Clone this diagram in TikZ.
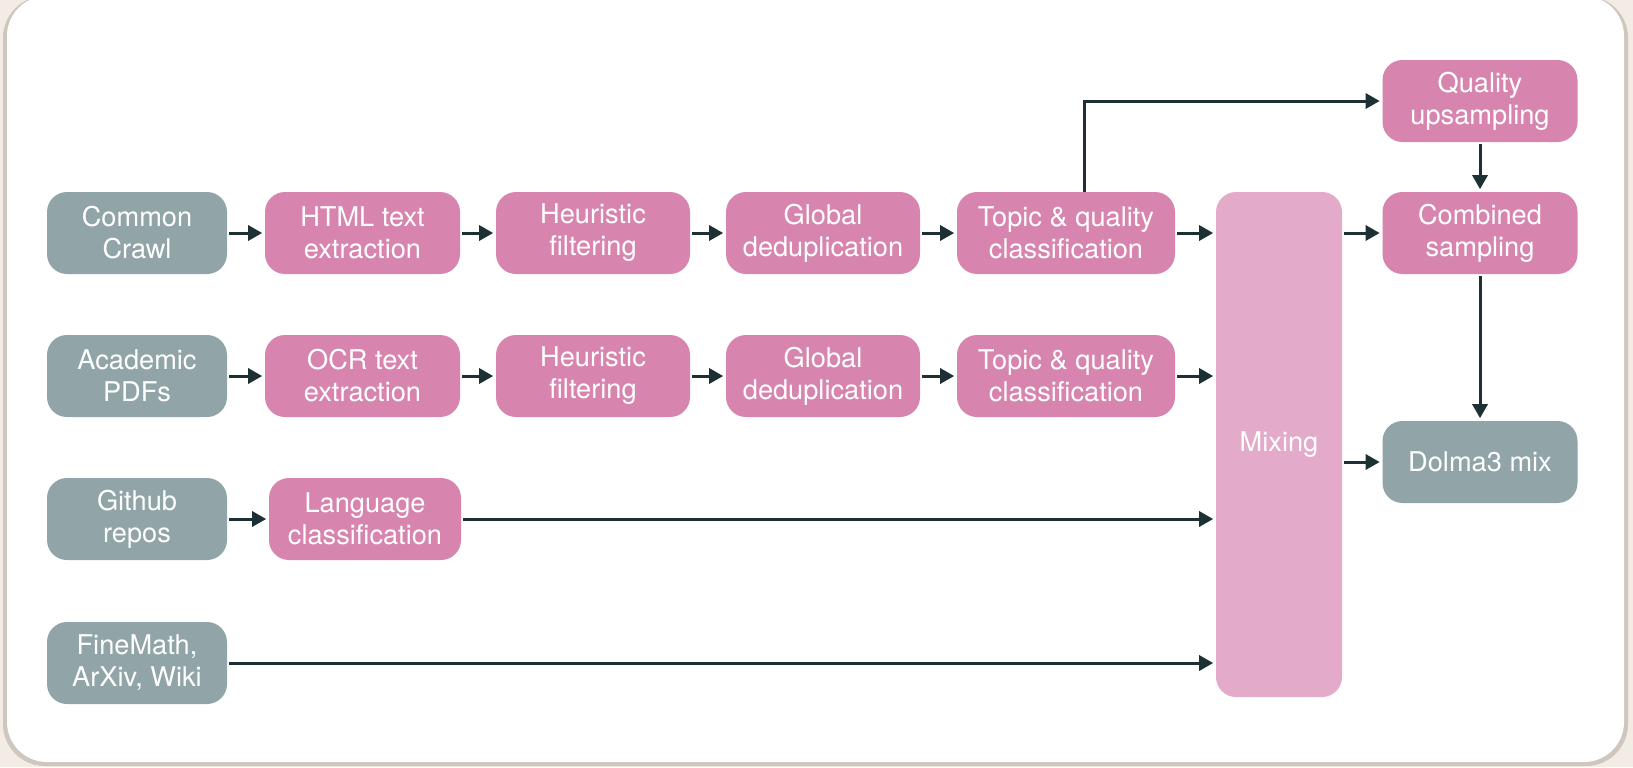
\documentclass[tikz,border=0pt]{standalone}
\usepackage{fontspec}
\setmainfont{TeX Gyre Heros}
\usetikzlibrary{arrows.meta}

\definecolor{pagebg}{HTML}{F3ECE4}
\definecolor{cardedge}{HTML}{CFC6BD}
\definecolor{srcgray}{HTML}{91A4A8}
\definecolor{steppink}{HTML}{D785AE}
\definecolor{mixpink}{HTML}{E3ABC9}
\definecolor{flowink}{HTML}{1D3134}

\tikzset{
  box/.style={rounded corners=10pt, text=white, align=center,
    minimum height=41pt, inner sep=0pt,
    font=\fontsize{13.6}{16}\selectfont},
  source/.style={box, fill=srcgray, minimum width=90pt},
  stage/.style={box, fill=steppink},
  mixer/.style={box, fill=mixpink, minimum width=63pt, minimum height=252.5pt},
  flow/.style={draw=flowink, line width=1.5pt,
    -{Triangle[length=7pt,width=7.5pt]}, shorten >=1.2pt, shorten <=1pt},
}

\begin{document}
\begin{tikzpicture}[x=0.5pt, y=-0.5pt]
  % page and card
  \useasboundingbox (0,0) rectangle (1633,767);
  \fill[pagebg] (0,0) rectangle (1633,767);
  \fill[cardedge, rounded corners=21pt] (3,-4) rectangle (1628,766);
  \fill[white, rounded corners=20pt] (7,-4) rectangle (1624,762);

  % sources
  \node[source] (cc)  at (137,233) {Common\\Crawl};
  \node[source] (pdf) at (137,376) {Academic\\PDFs};
  \node[source] (gh)  at (137,519) {Github\\repos};
  \node[source] (fm)  at (137,663) {FineMath,\\ArXiv, Wiki};

  % web pipeline
  \node[stage, minimum width=97.5pt] (html)   at (362.5,233) {HTML text\\extraction};
  \node[stage, minimum width=97pt]   (heurA)  at (593,233)   {Heuristic\\filtering};
  \node[stage, minimum width=97pt]   (globA)  at (823,233)   {Global\\deduplication};
  \node[stage, minimum width=109pt]  (topicA) at (1066,233)  {Topic \& quality\\classification};

  % pdf pipeline
  \node[stage, minimum width=97.5pt] (ocr)    at (362.5,376) {OCR text\\extraction};
  \node[stage, minimum width=97pt]   (heurB)  at (593,376)   {Heuristic\\filtering};
  \node[stage, minimum width=97pt]   (globB)  at (823,376)   {Global\\deduplication};
  \node[stage, minimum width=109pt]  (topicB) at (1066,376)  {Topic \& quality\\classification};

  % code pipeline
  \node[stage, minimum width=96pt]   (lang)   at (365,519)   {Language\\classification};

  % mixing and outputs
  \node[mixer] (mix) at (1279,444.5) {Mixing};
  \node[stage, minimum width=97.5pt] (qual)  at (1480,101) {Quality\\upsampling};
  \node[stage, minimum width=97.5pt] (comb)  at (1480,233) {Combined\\sampling};
  \node[source, minimum width=97.5pt] (dolma) at (1480,462) {Dolma3 mix};

  % connectors
  \draw[flow] (cc) -- (html);
  \draw[flow] (html) -- (heurA);
  \draw[flow] (heurA) -- (globA);
  \draw[flow] (globA) -- (topicA);
  \draw[flow] (topicA) -- (topicA -| mix.west);

  \draw[flow] (pdf) -- (ocr);
  \draw[flow] (ocr) -- (heurB);
  \draw[flow] (heurB) -- (globB);
  \draw[flow] (globB) -- (topicB);
  \draw[flow] (topicB) -- (topicB -| mix.west);

  \draw[flow] (gh) -- (lang);
  \draw[flow] (lang) -- (lang -| mix.west);
  \draw[flow] (fm) -- (fm -| mix.west);

  \draw[flow, shorten <=0pt] ([xshift=9pt]topicA.north) |- (qual.west);
  \draw[flow] (qual) -- (comb);
  \draw[flow] (mix.east |- comb) -- (comb.west);
  \draw[flow] (comb) -- (dolma);
  \draw[flow] (mix.east |- dolma) -- (dolma.west);
\end{tikzpicture}
\end{document}
